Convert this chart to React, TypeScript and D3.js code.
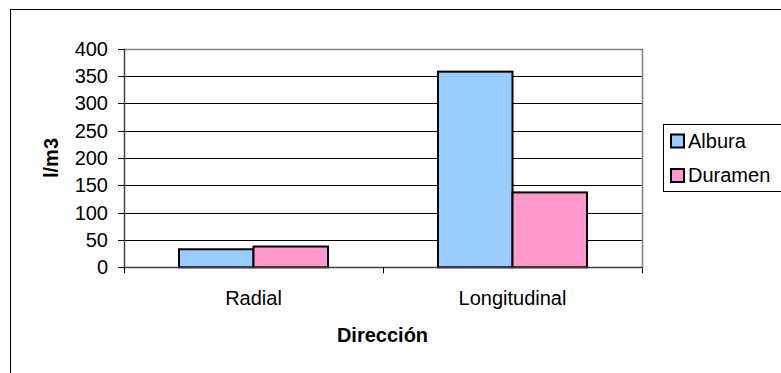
import React from "react";
import * as d3 from "d3";

// Absorción por dirección (l/m3)
const categories = ["Radial", "Longitudinal"];
const seriesNames = ["Albura", "Duramen"];
const albura = [33, 358];
const duramen = [38, 137];
const yTicks = [0, 50, 100, 150, 200, 250, 300, 350, 400];

const colors: Record<string, string> = { Albura: "#99CCFF", Duramen: "#FF99CC" };
const FONT = "'Liberation Sans', Arial, sans-serif";
const FS = 20;

export default function App() {
  const W = 781;
  const H = 373;
  const plot = { left: 124, right: 642, top: 48.7, bottom: 267.3 };

  const y = d3.scaleLinear().domain([0, 400]).range([plot.bottom, plot.top]);
  const x0 = d3.scaleBand<string>().domain(categories).range([plot.left, plot.right]).padding(0);
  const x1 = d3
    .scaleBand<string>()
    .domain(seriesNames)
    .range([0, x0.bandwidth()])
    .paddingInner(0)
    .paddingOuter(0.738);

  const values: Record<string, number[]> = { Albura: albura, Duramen: duramen };
  const boundaries = [...categories.map((c) => x0(c) as number), plot.right];

  return (
    <svg
      width={W}
      height={H}
      style={{ position: "absolute", left: 0, top: 0, background: "#fff" }}
      fontFamily={FONT}
    >
      {/* chart frame */}
      <rect x={10.5} y={9.5} width={W + 20} height={H + 20} fill="#fff" stroke="#000" strokeWidth={1} />

      {/* horizontal gridlines */}
      {yTicks
        .filter((t) => t > 0 && t < 400)
        .map((t) => (
          <line key={t} x1={plot.left} x2={plot.right} y1={Math.round(y(t)) + 0.5} y2={Math.round(y(t)) + 0.5} stroke="#000" strokeWidth={1} />
        ))}
      {/* plot area border (top / right) */}
      <line x1={plot.left} x2={plot.right} y1={Math.round(plot.top) + 0.5} y2={Math.round(plot.top) + 0.5} stroke="#808080" strokeWidth={1.5} />
      <line x1={plot.right + 0.5} x2={plot.right + 0.5} y1={plot.top} y2={plot.bottom} stroke="#808080" strokeWidth={1.5} />

      {/* bars */}
      {categories.map((c, i) =>
        seriesNames.map((s) => {
          const v = values[s][i];
          const bx = (x0(c) as number) + (x1(s) as number);
          return (
            <rect
              key={c + s}
              x={bx}
              y={y(v)}
              width={x1.bandwidth()}
              height={y(0) - y(v)}
              fill={colors[s]}
              stroke="#000"
              strokeWidth={2}
            />
          );
        })
      )}

      {/* y axis */}
      <line x1={plot.left + 0.5} x2={plot.left + 0.5} y1={plot.top} y2={plot.bottom} stroke="#404040" strokeWidth={1.5} />
      {yTicks.map((t) => (
        <g key={t}>
          <line x1={plot.left - 6} x2={plot.left} y1={Math.round(y(t)) + 0.5} y2={Math.round(y(t)) + 0.5} stroke="#000" strokeWidth={1} />
          <text x={108} y={y(t) + 7} textAnchor="end" fontSize={FS} fill="#000">
            {t}
          </text>
        </g>
      ))}

      {/* x axis */}
      <line x1={plot.left} x2={plot.right} y1={Math.round(plot.bottom) + 0.5} y2={Math.round(plot.bottom) + 0.5} stroke="#404040" strokeWidth={1.5} />
      {boundaries.map((bx, i) => (
        <line key={i} x1={bx + 0.5} x2={bx + 0.5} y1={plot.bottom} y2={plot.bottom + 6} stroke="#000" strokeWidth={1} />
      ))}
      {categories.map((c) => (
        <text key={c} x={(x0(c) as number) + x0.bandwidth() / 2} y={305} textAnchor="middle" fontSize={FS} fill="#000">
          {c}
        </text>
      ))}

      {/* axis titles */}
      <text x={382.5} y={342} textAnchor="middle" fontSize={FS} fontWeight="bold" fill="#000">
        Dirección
      </text>
      <text
        transform={`translate(58, ${(plot.top + plot.bottom) / 2}) rotate(-90)`}
        textAnchor="middle"
        fontSize={FS}
        fontWeight="bold"
        fill="#000"
      >
        l/m3
      </text>

      {/* legend */}
      <rect x={663.5} y={124.5} width={130} height={67} fill="#fff" stroke="#000" strokeWidth={1} />
      {seriesNames.map((s, i) => (
        <g key={s} transform={`translate(0, ${i * 34.5})`}>
          <rect x={671} y={134.5} width={13} height={13} fill={colors[s]} stroke="#000" strokeWidth={2} />
          <text x={688} y={147.7} fontSize={FS} fill="#000">
            {s}
          </text>
        </g>
      ))}
    </svg>
  );
}
